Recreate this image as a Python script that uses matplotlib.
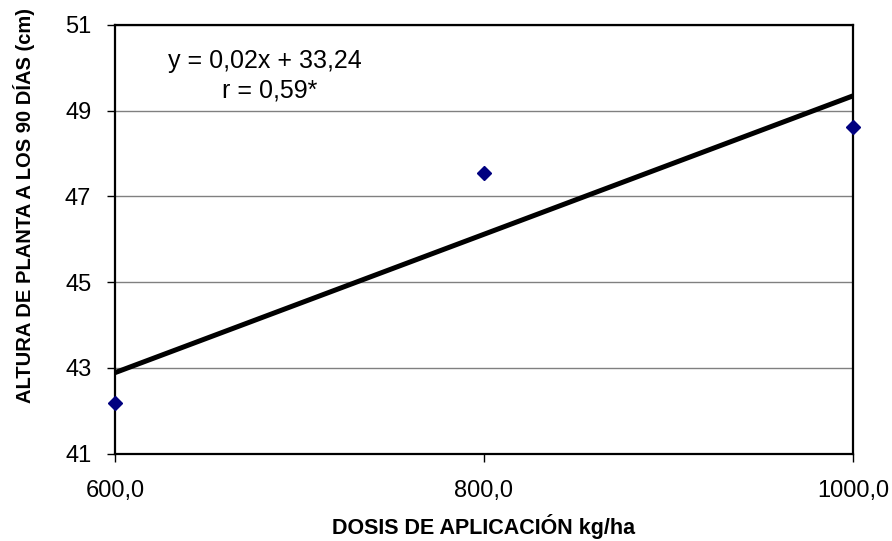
import numpy as np
import matplotlib
matplotlib.use("Agg")
import matplotlib.pyplot as plt

plt.rcParams['font.family'] = ['Liberation Sans', 'DejaVu Sans']

# data
dosis = [600.0, 800.0, 1000.0]
altura = [42.17, 47.55, 48.63]
x_ticks = [600, 800, 1000]
x_tick_labels = ['600,0', '800,0', '1000,0']
y_ticks = [41, 43, 45, 47, 49, 51]

fig = plt.figure(figsize=(8.92, 5.41), dpi=100)
ax = fig.add_axes([0.1289, 0.1617, 0.9563 - 0.1289, 0.9538 - 0.1617])

# linear trend line
coef = np.polyfit(dosis, altura, 1)
xl = np.array([dosis[0], dosis[-1]])
ax.plot(xl, np.polyval(coef, xl), color='black', lw=3.6, solid_capstyle='butt', zorder=3)

ax.plot(dosis, altura, linestyle='none', marker='D', ms=7.5, color='#000080',
        clip_on=False, zorder=4)

ax.set_xlim(600, 1000)
ax.set_ylim(41, 51)
ax.set_xticks(x_ticks)
ax.set_xticklabels(x_tick_labels)
ax.set_yticks(y_ticks)
ax.yaxis.grid(True, color='#808080', lw=1.0)
ax.set_axisbelow(True)

for s in ax.spines.values():
    s.set_linewidth(1.6)
    s.set_color('black')

ax.tick_params(axis='y', direction='out', length=6, width=1, labelsize=17, pad=11)
ax.tick_params(axis='x', direction='out', length=6, width=1, labelsize=17, pad=13)

ax.set_xlabel('DOSIS DE APLICACIÓN kg/ha', fontsize=15.5, fontweight='bold', va='center')
ax.xaxis.set_label_coords(0.5, -0.171)
ax.set_ylabel('ALTURA DE PLANTA A LOS 90 DÍAS (cm)', fontsize=14.5, fontweight='bold',
              va='center')
ax.yaxis.set_label_coords(-0.123, 0.578)

ax.text(0.203, 0.900, 'y = 0,02x + 33,24', transform=ax.transAxes, ha='center',
        va='baseline', fontsize=18)
ax.text(0.209, 0.830, 'r = 0,59*', transform=ax.transAxes, ha='center',
        va='baseline', fontsize=18)

fig.savefig('out.png', dpi=100)
